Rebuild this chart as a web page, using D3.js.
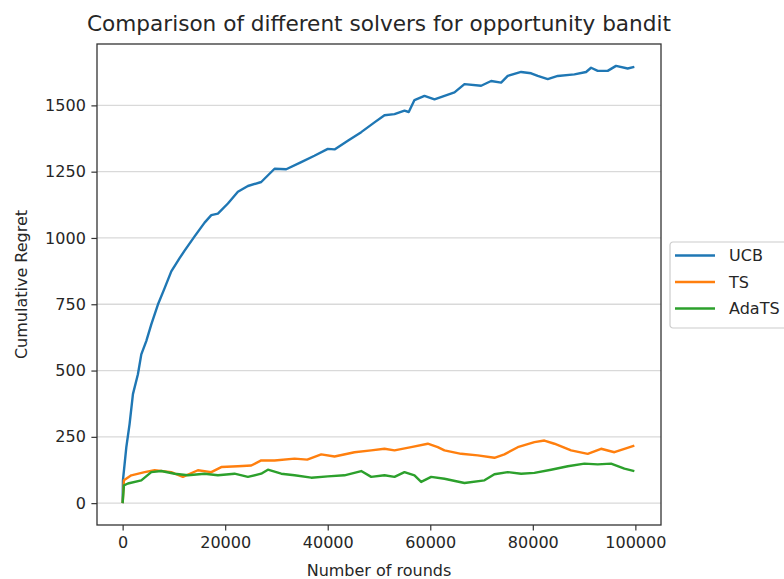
<!DOCTYPE html>
<html>
<head>
<meta charset="utf-8">
<script src="https://cdn.jsdelivr.net/npm/d3@7"></script>
<style>
  body { margin: 0; background: #fff; }
  text { font-family: "DejaVu Sans", sans-serif; fill: #262626; }
</style>
</head>
<body>
<div id="container"></div>
<script>
var W = 784, H = 579,
    margin = {top: 44, right: 123, bottom: 54, left: 97};

// series names and colours
var seriesNames = ['UCB', 'TS', 'AdaTS'],
    seriesColors = ['#1f77b4', '#ff7f0e', '#2ca02c'];

// rounds / cumulative regret
var ucbRounds = [0, 60, 720, 1360, 2010, 2980, 3640, 4610, 5590, 6880, 8190, 9490, 11110, 12086, 14035, 15984, 17290, 18580, 20530, 22480, 24430, 27030, 29630, 31900, 34830, 37400, 40020, 41330, 43920, 46530, 49120, 51070, 53020, 54970, 55800, 56920, 58870, 60820, 62770, 64720, 66670, 69920, 71870, 73820, 75110, 77720, 79670, 80960, 82910, 84860, 88110, 90390, 91360, 92660, 94600, 96230, 98500, 99800];
var ucbRegret = [0, 86, 211, 299, 411, 486, 561, 611, 674, 749, 811, 874, 924, 952, 1006, 1058, 1086, 1092, 1130, 1174, 1196, 1211, 1261, 1259, 1286, 1310, 1336, 1334, 1367, 1399, 1436, 1463, 1467, 1480, 1475, 1520, 1536, 1523, 1536, 1549, 1580, 1574, 1592, 1586, 1611, 1626, 1621, 1611, 1599, 1611, 1617, 1626, 1642, 1630, 1630, 1649, 1639, 1645];

var tsRounds = [0, 250, 1690, 4290, 6240, 9490, 11750, 14680, 17290, 19240, 22480, 25090, 27030, 29630, 33530, 36000, 38730, 41330, 45220, 48480, 51070, 53020, 56270, 59510, 61460, 62770, 66020, 69260, 72510, 74460, 77060, 80310, 82260, 84210, 87460, 90710, 93310, 95910, 97860, 99800];
var tsRegret = [0, 86, 105, 117, 124, 117, 99, 124, 117, 136, 139, 142, 161, 161, 168, 164, 184, 176, 192, 199, 205, 199, 211, 224, 211, 199, 186, 180, 171, 184, 211, 230, 236, 224, 199, 186, 205, 192, 205, 217];

var adaRounds = [0, 250, 1030, 3640, 5590, 7540, 10140, 12730, 15980, 18580, 21830, 24430, 27030, 28330, 30930, 33530, 36780, 40020, 43270, 46530, 48480, 51070, 53020, 54970, 56920, 58220, 60170, 62770, 66670, 70570, 72510, 75110, 77720, 80310, 83560, 86820, 90060, 92660, 95260, 97860, 99800];
var adaRegret = [0, 67, 74, 86, 117, 121, 111, 105, 111, 105, 111, 99, 111, 126, 111, 105, 96, 101, 105, 121, 99, 105, 99, 117, 105, 80, 99, 92, 76, 86, 109, 117, 111, 114, 126, 139, 149, 146, 149, 130, 121];

var yTicks = [0, 250, 500, 750, 1000, 1250, 1500],
    xTicks = [0, 20000, 40000, 60000, 80000, 100000];

var allSeries = [
  ucbRounds.map((r, i) => ({x: r, y: ucbRegret[i]})),
  tsRounds.map((r, i) => ({x: r, y: tsRegret[i]})),
  adaRounds.map((r, i) => ({x: r, y: adaRegret[i]}))
];

var svg = d3.select('#container').append('svg')
    .attr('width', W)
    .attr('height', H);

svg.append('rect').attr('width', W).attr('height', H).attr('fill', '#fff');

var pLeft = margin.left, pRight = W - margin.right,
    pTop = margin.top, pBottom = H - margin.bottom;

/* scales with matplotlib's 5% margins */
var xMax = 100000, yMax = d3.max(ucbRegret);
var xScale = d3.scaleLinear()
    .domain([-0.05 * xMax, 1.05 * xMax])
    .range([pLeft, pRight]);
var yScale = d3.scaleLinear()
    .domain([-0.05 * yMax, 1.05 * yMax])
    .range([pBottom, pTop]);

// horizontal grid
svg.append('g').selectAll('line').data(yTicks).enter().append('line')
    .attr('x1', pLeft).attr('x2', pRight)
    .attr('y1', d => yScale(d)).attr('y2', d => yScale(d))
    .attr('stroke', '#d9d9d9').attr('stroke-width', 1.3);

// lines
var line = d3.line().x(d => xScale(d.x)).y(d => yScale(d.y));
svg.append('g').selectAll('path').data(allSeries).enter().append('path')
    .attr('d', line)
    .attr('fill', 'none')
    .attr('stroke', (d, i) => seriesColors[i])
    .attr('stroke-width', 2.4)
    .attr('stroke-linejoin', 'round');

// axes
var xAxis = d3.axisBottom(xScale).tickValues(xTicks).tickFormat(d3.format('d'))
    .tickSize(5.6).tickPadding(5.6);
var yAxis = d3.axisLeft(yScale).tickValues(yTicks).tickFormat(d3.format('d'))
    .tickSize(5.6).tickPadding(5.6);

var gx = svg.append('g').attr('transform', `translate(0,${pBottom})`).call(xAxis);
var gy = svg.append('g').attr('transform', `translate(${pLeft},0)`).call(yAxis);
[gx, gy].forEach(g => {
  g.select('.domain').remove();
  g.selectAll('line').attr('stroke', '#333').attr('stroke-width', 1.2);
  g.selectAll('text').attr('font-size', 16).attr('fill', '#262626')
    .style('font-family', '"DejaVu Sans", sans-serif');
});

// frame
svg.append('rect')
    .attr('x', pLeft).attr('y', pTop)
    .attr('width', pRight - pLeft).attr('height', pBottom - pTop)
    .attr('fill', 'none').attr('stroke', '#333').attr('stroke-width', 1.3);

// title and labels
svg.append('text')
    .attr('x', (pLeft + pRight) / 2).attr('y', 31)
    .attr('text-anchor', 'middle').attr('font-size', 21.6)
    .text('Comparison of different solvers for opportunity bandit');
svg.append('text')
    .attr('x', (pLeft + pRight) / 2).attr('y', 576)
    .attr('text-anchor', 'middle').attr('font-size', 16)
    .text('Number of rounds');
svg.append('text')
    .attr('transform', `translate(27,${(pTop + pBottom) / 2}) rotate(-90)`)
    .attr('text-anchor', 'middle').attr('font-size', 16)
    .text('Cumulative Regret');

// legend
var legend = svg.append('g').attr('transform', 'translate(670,242)');
legend.append('rect')
    .attr('x', 0).attr('y', 0).attr('width', 130).attr('height', 86)
    .attr('rx', 3).attr('fill', '#fff').attr('fill-opacity', 0.8)
    .attr('stroke', '#cccccc').attr('stroke-width', 1.2);
var items = legend.selectAll('g.item').data(seriesNames).enter().append('g')
    .attr('class', 'item')
    .attr('transform', (d, i) => `translate(0,${13.5 + i * 26.5})`);
items.append('line')
    .attr('x1', 5).attr('x2', 45)
    .attr('stroke', (d, i) => seriesColors[i]).attr('stroke-width', 2.4);
items.append('text')
    .attr('x', 59).attr('dy', '0.36em').attr('font-size', 16)
    .text(d => d);
</script>
</body>
</html>
